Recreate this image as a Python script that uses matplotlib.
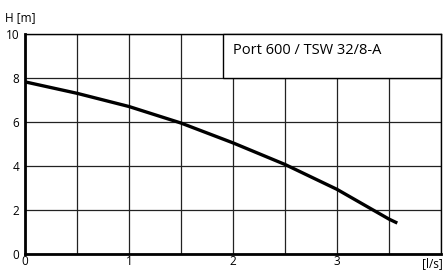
import matplotlib.pyplot as plt
from matplotlib.patches import Rectangle

plt.rcParams['font.family'] = ['Open Sans', 'DejaVu Sans']

# pump curve
flow = [0, 0.5, 1.0, 1.5, 2.0, 2.5, 3.0, 3.5, 3.58]
head = [7.83, 7.31, 6.71, 5.96, 5.06, 4.08, 2.95, 1.60, 1.42]
x_ticks = [0, 1, 2, 3]
y_ticks = [0, 2, 4, 6, 8, 10]
title = "Port 600 / TSW 32/8-A"

fig = plt.figure(figsize=(4.45, 2.7), dpi=100)
ax = fig.add_axes([0.056, 0.058, 0.935, 0.816])

ax.set_xlim(0, 4)
ax.set_ylim(0, 10)
ax.set_xticks([i * 0.5 for i in range(9)], minor=True)
ax.set_xticks(x_ticks)
ax.set_yticks(y_ticks)
ax.grid(True, which='both', color='#222222', linewidth=0.9)
ax.tick_params(which='both', length=0, labelsize=8.5)
ax.tick_params(axis='x', pad=0.5)
ax.tick_params(axis='y', pad=4)

for side in ['left', 'bottom']:
    ax.spines[side].set_linewidth(2.0)
for side in ['top', 'right']:
    ax.spines[side].set_linewidth(1.0)

ax.plot(flow, head, color='black', linewidth=2.4, solid_capstyle='butt', zorder=3)

ax.add_patch(Rectangle((1.9, 8.0), 2.1, 2.0, facecolor='white', edgecolor='black',
                       linewidth=1.0, zorder=4, clip_on=False))
ax.text(2.0, 9.25, title, fontsize=10.5, va='center', ha='left', zorder=5)

fig.text(0.012, 0.935, "H [m]", fontsize=8.5, va='center', ha='left')
fig.text(0.948, 0.022, "[l/s]", fontsize=8.5, va='center', ha='left')

fig.savefig('out.png', dpi=100)
